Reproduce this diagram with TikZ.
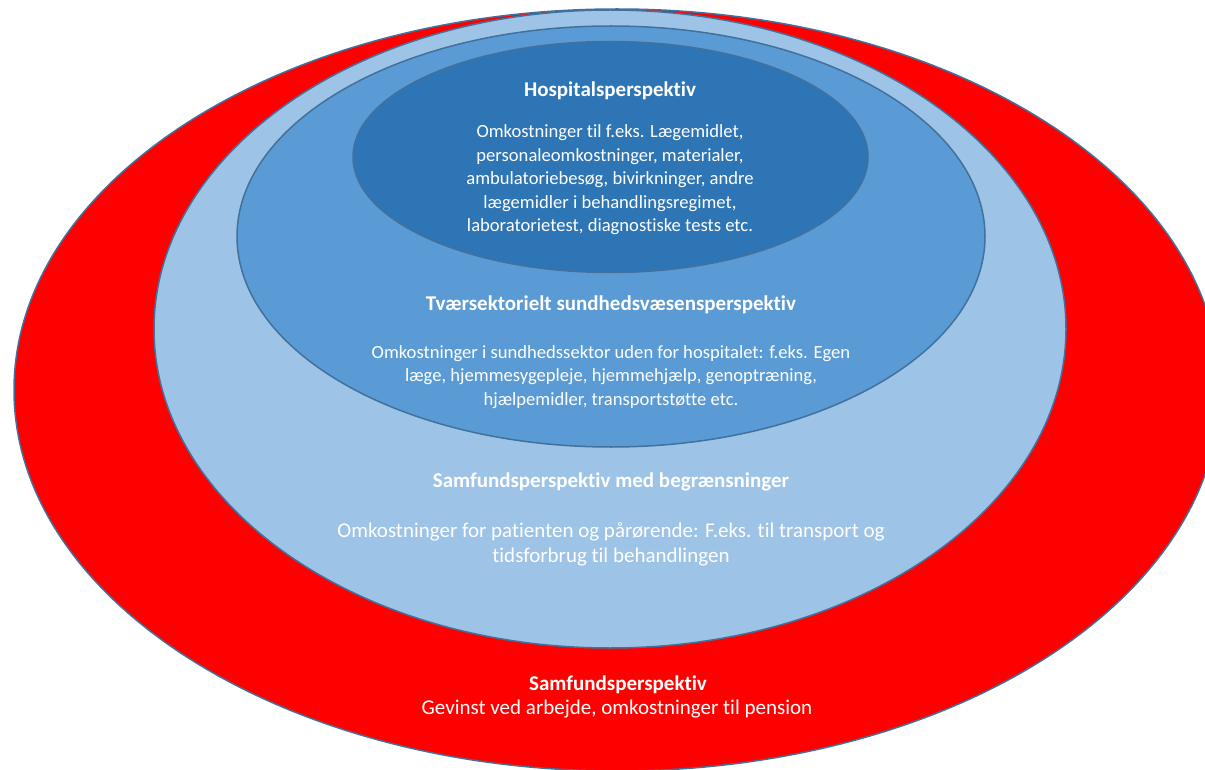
\documentclass[tikz,border=0pt]{standalone}
\usepackage{fontspec}
\setmainfont{Carlito}[Ligatures=NoCommon]
\definecolor{ringred}{HTML}{FF0000}
\definecolor{ringlight}{HTML}{9DC3E6}
\definecolor{ringmid}{HTML}{5B9BD5}
\definecolor{ringdark}{HTML}{2E75B6}
\definecolor{ringline}{HTML}{41719C}
\tikzset{
  ring/.style={draw=ringline, line width=1.5pt},
  headtext/.style={text=white, font=\fontsize{21}{25}\selectfont\bfseries, inner sep=0pt},
  bodytext/.style={text=white, font=\fontsize{18.6}{23.5}\selectfont, align=center, inner sep=0pt},
  bigtext/.style={text=white, font=\fontsize{21}{25}\selectfont, align=center, inner sep=0pt}
}

\begin{document}
\begin{tikzpicture}[x=1pt,y=-1pt]
            \useasboundingbox (0,0) rectangle (1205,770);
            \clip (0,0) rectangle (1205,770);
            % rings, outer to inner
            \draw[ring, fill=ringred] (617,390) ellipse [x radius=603, y radius=381];
            \draw[ring, fill=ringlight] (610,329) ellipse [x radius=456, y radius=319];
            \draw[ring, fill=ringmid] (611,236.5) ellipse [x radius=374, y radius=210.5];
            \draw[ring, fill=ringdark] (610.5,157) ellipse [x radius=257.5, y radius=115.5];
            % texts
            \node[headtext] (hosphead) at (610,91) {Hospitalsperspektiv};
            \node[bodytext] (hospbody) at (610,180) {Omkostninger til f.eks. Lægemidlet,\\personaleomkostninger, materialer,\\ambulatoriebesøg, bivirkninger, andre\\lægemidler i behandlingsregimet,\\laboratorietest, diagnostiske tests etc.};
            \node[headtext] (sektorhead) at (611,305) {Tværsektorielt sundhedsvæsensperspektiv};
            \node[bodytext] (sektorbody) at (611,377) {Omkostninger i sundhedssektor uden for hospitalet: f.eks. Egen\\læge, hjemmesygepleje, hjemmehjælp, genoptræning,\\hjælpemidler, transportstøtte etc.};
            \node[headtext] (begrhead) at (611,482) {Samfundsperspektiv med begrænsninger};
            \node[bigtext] (begrbody) at (611,544.5) {Omkostninger for patienten og pårørende: F.eks. til transport og\\tidsforbrug til behandlingen};
            \node[headtext] (samfhead) at (618,685) {Samfundsperspektiv};
            \node[bigtext] (samfbody) at (617,709) {Gevinst ved arbejde, omkostninger til pension};
        \end{tikzpicture}
\end{document}
